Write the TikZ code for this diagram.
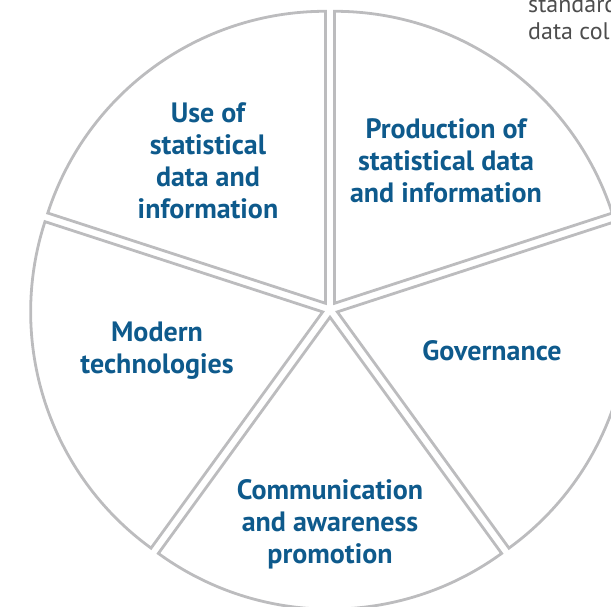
\documentclass[tikz,border=0pt]{standalone}
\usepackage{fontspec}
\setmainfont{PT Sans}
\usetikzlibrary{calc}

\begin{document}
\begin{tikzpicture}[x=1pt, y=1pt]
    % Define pie sizes
    \def\pieRadius{292}
    \def\pieGap{7.7}

    \definecolor{borderColour}{HTML}{BCBCBE}
    \definecolor{labelColour}{HTML}{0E5A8C}
    \definecolor{noteColour}{HTML}{4D4D4D}

    \tikzset{
        sectorLine/.style={draw=borderColour, line width=2.8pt, line join=miter},
        sectorLabel/.style={text=labelColour, font=\bfseries\fontsize{28}{32}\selectfont, align=center},
        noteText/.style={text=noteColour, font=\fontsize{24}{28}\selectfont, anchor=base west, inner sep=0pt}
    }

    % Fix the frame
    \clip (0,0) rectangle (611,606);

    \coordinate (centre) at (330,296.5);

    % Draw the five sectors, each pushed out along its bisector
    \foreach \a in {54,-18,-90,-162,126}
        \draw[sectorLine] ($(centre)+(\a:\pieGap)$) -- ++(\a-36:\pieRadius)
            arc[start angle=\a-36, end angle=\a+36, radius=\pieRadius] -- cycle;

    % Label the sectors
    \node[sectorLabel] (useInfo) at (208,445) {Use of\\statistical\\data and\\information};
    \node[sectorLabel] (production) at (446,445) {Production of\\statistical data\\and information};
    \node[sectorLabel] (governance) at (492,255) {Governance};
    \node[sectorLabel] (modernTech) at (157,255) {Modern\\technologies};
    \node[sectorLabel] (communication) at (330,82) {Communication\\and awareness\\promotion};

    % Text running in from the page
    \node[noteText] (noteStandards) at (528,593) {standards};
    \node[noteText] (noteData) at (528,566) {data collection};
\end{tikzpicture}
\end{document}
